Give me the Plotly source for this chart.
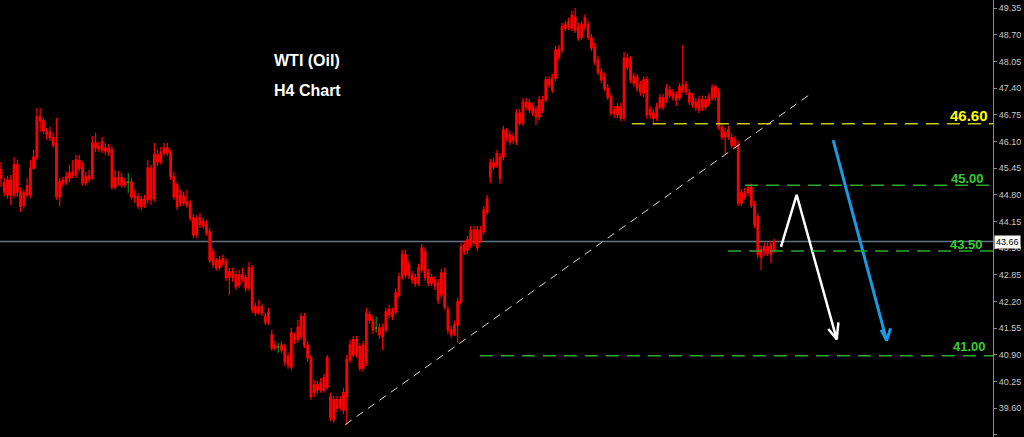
import plotly.graph_objects as go

# ---- OHLC data (WTI, H4) ----
open_ = [45.41,45.09,44.80,45.16,44.80,45.53,44.87,44.55,44.80,44.80,45.45,45.72,46.70,46.60,46.36,46.33,46.19,46.06,44.75,45.09,
         45.11,45.21,45.28,45.28,45.63,45.48,45.09,45.19,45.21,46.06,45.97,45.89,45.94,45.94,45.89,44.99,45.21,45.21,45.11,45.12,
         45.11,44.77,44.75,44.51,44.58,44.68,45.45,44.70,45.77,45.60,45.82,45.94,45.82,45.24,45.04,44.60,44.77,44.63,44.60,44.24,
         43.82,44.07,44.14,44.09,43.90,43.41,43.17,43.04,43.14,43.17,42.92,42.80,42.85,42.61,42.75,42.78,42.53,43.02,42.07,41.95,
         42.07,41.83,41.70,41.39,41.14,41.10,41.14,41.07,40.85,40.61,41.34,41.27,41.34,41.83,41.14,40.83,39.98,40.17,40.05,40.05,
         40.12,39.88,39.32,39.81,39.61,39.56,39.88,40.78,41.27,40.90,41.10,40.58,40.71,41.88,41.75,41.56,41.56,41.34,41.51,41.88,
         41.95,41.95,42.36,42.80,43.34,43.09,42.85,42.78,42.65,42.97,43.41,42.90,42.65,42.73,42.65,42.36,42.90,42.00,41.51,41.44,
         41.63,42.19,43.41,43.46,43.58,43.94,43.94,43.70,43.90,44.38,45.24,45.58,45.53,45.72,45.72,46.33,46.26,46.14,46.09,46.79,
         46.55,47.06,47.04,46.94,46.87,46.70,47.11,47.11,47.60,47.65,47.65,48.35,48.33,48.86,48.89,48.86,49.13,48.89,48.64,48.89,
         48.94,48.62,48.40,48.08,47.79,47.67,47.40,47.18,46.79,46.94,46.94,46.67,48.13,48.08,47.67,47.65,47.48,47.28,47.60,46.87,
         46.79,46.67,46.94,47.16,47.11,47.35,47.28,47.23,47.16,47.48,47.48,47.28,47.18,47.06,46.87,47.11,46.94,47.04,47.16,47.43,
         47.31,46.45,46.33,46.21,46.19,46.14,46.01,44.60,44.75,44.97,44.97,44.55,44.26,43.46,43.41,43.38,43.58,43.46]
high = [45.60,45.21,45.26,45.28,45.72,45.65,44.97,44.92,45.21,45.65,45.89,46.92,46.92,46.67,46.43,46.45,46.31,46.67,45.21,45.24,
        45.36,45.53,45.65,45.77,45.77,45.60,45.36,45.41,46.23,46.31,46.09,46.21,46.06,46.04,45.99,45.41,45.38,45.33,45.21,45.33,
        45.21,44.92,44.85,44.77,44.80,45.65,45.53,46.06,45.89,45.97,46.06,46.06,45.89,45.36,45.11,44.92,44.87,44.92,44.68,44.33,
        44.31,44.36,44.24,44.19,43.99,43.51,43.26,43.31,43.34,43.26,43.02,43.02,42.97,42.97,43.02,42.85,43.17,43.09,42.17,42.24,
        42.14,41.92,42.05,41.51,41.24,41.19,41.24,41.17,40.95,41.56,41.44,41.75,41.92,41.92,41.24,40.90,40.29,40.27,40.34,40.44,
        40.90,39.98,39.90,39.90,39.90,40.10,40.90,41.27,41.36,41.36,41.19,41.24,42.05,41.97,41.85,41.83,41.66,41.66,42.05,42.12,
        42.05,42.51,42.90,43.46,43.46,43.19,42.95,42.87,43.12,43.60,43.51,43.00,42.87,42.82,42.75,43.00,43.02,42.09,41.61,41.73,
        42.29,43.63,43.68,43.80,44.04,44.04,44.04,44.04,44.53,44.80,45.67,45.70,45.89,45.82,46.48,46.43,46.36,46.31,46.89,46.89,
        47.16,47.16,47.13,47.04,46.96,47.21,47.21,47.69,47.69,47.74,48.43,48.45,48.99,49.03,49.11,49.28,49.35,48.99,49.03,49.20,
        49.03,48.72,48.50,48.18,47.89,47.77,47.50,47.28,46.96,47.04,47.04,48.28,48.23,48.18,47.77,47.74,47.57,47.69,47.69,46.96,
        46.89,47.04,47.26,47.26,47.50,47.45,47.38,47.33,47.52,48.45,47.57,47.38,47.28,47.16,47.21,47.21,47.21,47.28,47.50,47.48,
        47.40,46.55,46.43,46.48,46.28,46.23,46.11,44.94,44.97,45.07,45.07,44.65,44.36,43.56,43.63,43.63,43.68,43.73]
low = [44.99,44.77,44.70,44.55,44.72,44.75,44.38,44.46,44.75,44.72,45.41,45.65,46.33,46.28,46.14,46.11,45.94,44.68,44.53,44.99,
       45.04,45.11,45.21,45.21,45.36,45.02,45.02,45.11,45.16,45.84,45.84,45.82,45.77,45.75,44.92,44.92,45.02,44.97,44.97,44.85,
       44.68,44.60,44.46,44.43,44.48,44.58,44.55,44.63,45.50,45.53,45.75,45.75,45.16,44.68,44.43,44.53,44.53,44.48,44.16,43.75,
       43.75,43.99,43.97,43.80,43.14,43.02,42.95,42.97,43.07,42.70,42.36,42.68,42.48,42.53,42.68,42.44,42.46,41.92,41.85,41.88,
       41.85,41.63,41.63,41.00,41.00,40.95,40.95,40.63,40.56,40.54,41.17,41.19,41.27,41.07,40.73,39.81,39.88,39.95,39.98,39.98,
       40.05,39.29,39.25,39.51,39.54,39.46,39.20,40.71,40.83,40.83,40.51,40.49,40.63,41.66,41.41,41.44,41.29,41.02,41.44,41.80,
       41.75,41.88,42.29,42.73,42.78,42.75,42.63,42.56,42.58,42.90,42.70,42.58,42.58,42.48,42.14,42.29,42.00,41.41,41.32,41.36,
       41.19,42.12,43.34,43.36,43.51,43.56,43.43,43.63,43.82,44.31,45.08,45.41,45.45,45.07,45.65,46.11,46.01,46.04,46.01,46.48,
       46.48,46.87,46.79,46.72,46.50,46.62,46.79,47.04,47.40,47.28,47.57,48.08,48.25,48.79,48.81,48.79,48.74,48.55,48.57,48.81,
       48.57,48.30,47.96,47.72,47.52,47.33,47.11,46.72,46.67,46.67,46.60,46.60,47.84,47.52,47.43,47.31,47.21,47.18,46.65,46.65,
       46.50,46.60,46.87,46.87,47.04,47.16,47.09,46.96,47.09,47.28,47.23,46.99,46.92,46.84,46.79,46.84,46.87,46.96,47.09,47.11,
       46.38,46.14,45.77,46.14,45.94,45.94,44.53,44.53,44.68,44.77,44.48,43.99,43.26,42.97,43.31,43.31,43.14,43.39]
close = [45.21,44.87,45.16,44.80,45.53,44.87,44.51,44.85,45.02,45.45,45.72,46.70,46.60,46.36,46.28,46.19,46.01,44.75,45.11,45.16,
         45.24,45.33,45.36,45.65,45.45,45.09,45.24,45.26,46.06,45.94,45.92,46.09,45.87,45.84,44.99,45.21,45.16,45.04,45.04,45.10,
         44.75,44.72,44.53,44.68,44.70,45.45,44.70,45.77,45.60,45.84,45.94,45.82,45.24,44.75,44.51,44.80,44.60,44.55,44.24,43.82,
         44.21,44.24,44.04,43.87,43.21,43.09,43.02,43.21,43.24,42.78,42.80,42.92,42.56,42.85,42.85,42.53,43.02,42.00,41.92,42.07,
         41.92,41.70,41.95,41.07,41.07,41.09,41.02,40.73,40.66,41.44,41.27,41.58,41.83,41.14,40.83,39.88,40.17,40.05,40.22,40.34,
         40.83,39.37,39.81,39.61,39.81,39.98,40.80,41.14,40.90,41.27,40.58,41.14,41.92,41.75,41.51,41.55,41.39,41.56,41.95,42.00,
         41.83,42.41,42.80,43.34,42.85,42.85,42.73,42.65,43.02,43.51,42.78,42.65,42.78,42.58,42.24,42.90,42.07,41.51,41.39,41.63,
         42.19,43.53,43.58,43.70,43.94,43.63,43.51,43.94,44.43,44.70,45.58,45.48,45.80,45.21,46.38,46.19,46.09,46.21,46.79,46.55,
         47.06,46.94,46.87,46.79,46.70,47.11,46.87,47.60,47.48,47.35,48.33,48.16,48.89,48.94,49.01,49.18,48.81,48.62,48.94,49.11,
         48.64,48.38,48.04,47.79,47.60,47.40,47.18,46.79,46.87,46.75,46.67,48.13,47.91,47.60,47.52,47.40,47.31,47.60,46.75,46.75,
         46.67,46.94,47.16,46.94,47.40,47.23,47.16,47.11,47.43,47.35,47.31,47.06,46.99,46.92,47.11,46.92,47.11,47.18,47.40,47.18,
         46.45,46.21,46.21,46.38,46.01,46.01,44.60,44.85,44.87,44.85,44.55,44.07,43.34,43.29,43.53,43.53,43.34,43.66]
doji_idx = [39, 85, 115]          # small green candles

# ---- price levels, trend line and arrows ----
last_price = 43.66
level_labels = ["46.60", "45.00", "43.50", "41.00"]
level_y = [46.53, 45.03, 43.43, 40.88]          # where the dashed lines are drawn
level_x0 = [193.4, 228.1, 222.9, 146.8]         # start bar of each dashed line
level_label_y = [46.72, 45.20, 43.60, 41.10]
level_label_x = [0.997, 0.993, 0.992, 0.995]
level_colors = ["#c8c800", "#2fa82f", "#2fa82f", "#2fa82f"]
label_colors = ["#ffff00", "#33cc33", "#33cc33", "#33cc33"]
label_sizes = [15, 13, 13, 13]

trend_x = [105.5, 248.6]
trend_y = [39.20, 47.28]

white_shaft_x = [239.1, 243.9, 256.2]
white_shaft_y = [43.53, 44.80, 41.28]
white_head_x = [253.6, 256.2, 256.7]
white_head_y = [41.53, 41.28, 41.69]
blue_shaft_x = [255.1, 271.5]
blue_shaft_y = [46.13, 41.25]
blue_head_x = [269.8, 271.5, 272.7]
blue_head_y = [41.51, 41.25, 41.55]

tick_vals = [38.95, 39.60, 40.25, 40.90, 41.55, 42.20, 42.85, 43.50, 44.15, 44.80,
             45.45, 46.10, 46.75, 47.40, 48.05, 48.70, 49.35]

n = len(close)
xs = list(range(n))
main_idx = [i for i in xs if i not in doji_idx]

RED = "#ff0000"
fig = go.Figure()
fig.add_trace(go.Candlestick(
    x=[xs[i] for i in main_idx],
    open=[open_[i] for i in main_idx], high=[high[i] for i in main_idx],
    low=[low[i] for i in main_idx], close=[close[i] for i in main_idx],
    increasing=dict(line=dict(color=RED, width=1.2), fillcolor=RED),
    decreasing=dict(line=dict(color=RED, width=1.2), fillcolor=RED),
    showlegend=False, hoverinfo="skip"))
fig.add_trace(go.Candlestick(
    x=[xs[i] for i in doji_idx],
    open=[open_[i] for i in doji_idx], high=[high[i] for i in doji_idx],
    low=[low[i] for i in doji_idx], close=[close[i] for i in doji_idx],
    increasing=dict(line=dict(color="#10b010", width=1), fillcolor="#10b010"),
    decreasing=dict(line=dict(color="#10b010", width=1), fillcolor="#10b010"),
    showlegend=False, hoverinfo="skip"))

# arrows
for sx, sy, hx, hy, col, w in [
        (white_shaft_x, white_shaft_y, white_head_x, white_head_y, "#ffffff", 2.5),
        (blue_shaft_x, blue_shaft_y, blue_head_x, blue_head_y, "#1a9ae0", 3)]:
    fig.add_trace(go.Scatter(x=sx, y=sy, mode="lines", line=dict(color=col, width=w),
                             showlegend=False, hoverinfo="skip"))
    fig.add_trace(go.Scatter(x=hx, y=hy, mode="lines", line=dict(color=col, width=w),
                             showlegend=False, hoverinfo="skip"))

shapes = []
# current price line
shapes.append(dict(type="line", xref="paper", yref="y", x0=0, x1=1, y0=last_price, y1=last_price,
                   line=dict(color="#647486", width=1.5), layer="below"))
# level lines
xmax = 304.1
for y, x0, c in zip(level_y, level_x0, level_colors):
    shapes.append(dict(type="line", xref="x", yref="y", x0=x0, x1=xmax, y0=y, y1=y,
                       line=dict(color=c, width=1.5, dash="13px,8px")))
# trend line
shapes.append(dict(type="line", xref="x", yref="y", x0=trend_x[0], x1=trend_x[1],
                   y0=trend_y[0], y1=trend_y[1],
                   line=dict(color="#d8d8d8", width=1, dash="8px,6px")))

annotations = []
for txt, y, x, c, s in zip(level_labels, level_label_y, level_label_x, label_colors, label_sizes):
    annotations.append(dict(text="<b>%s</b>" % txt, xref="paper", yref="y", x=x, y=y,
                            xanchor="right", yanchor="middle", showarrow=False,
                            font=dict(family="Liberation Sans, Arial", size=s, color=c)))
annotations.append(dict(text="<b>WTI (Oil)</b>", xref="paper", yref="paper", x=0.274, y=0.8616,
                        xanchor="left", yanchor="middle", showarrow=False,
                        font=dict(family="Liberation Sans, Arial", size=16, color="#ffffff")))
annotations.append(dict(text="<b>H4 Chart</b>", xref="paper", yref="paper", x=0.274, y=0.7929,
                        xanchor="left", yanchor="middle", showarrow=False,
                        font=dict(family="Liberation Sans, Arial", size=16, color="#ffffff")))
annotations.append(dict(text="%.2f" % last_price, xref="paper", yref="y", x=1, y=last_price,
                        xanchor="left", yanchor="middle", xshift=1, showarrow=False,
                        bgcolor="#ffffff", borderpad=1,
                        font=dict(family="Liberation Sans, Arial", size=9, color="#000000")))

fig.update_layout(
    width=1024, height=437,
    margin=dict(l=0, r=31, t=0, b=0),
    paper_bgcolor="#000000", plot_bgcolor="#000000",
    shapes=shapes, annotations=annotations,
    xaxis=dict(range=[-0.31, xmax], visible=False, rangeslider=dict(visible=False),
               showgrid=False, zeroline=False),
    yaxis=dict(range=[38.90, 49.545], side="right", showgrid=False, zeroline=False,
               showline=True, linecolor="#8c8c8c", linewidth=1,
               ticks="outside", ticklen=3, tickcolor="#8c8c8c", automargin=False,
               tickvals=tick_vals, ticktext=["%.2f" % v for v in tick_vals],
               tickfont=dict(family="Liberation Sans, Arial", size=9, color="#c8c8c8")),
    showlegend=False,
)

fig.write_html("out.html", config={"displayModeBar": False},
               post_script="document.body.style.margin='0';document.body.style.background='#000';")
